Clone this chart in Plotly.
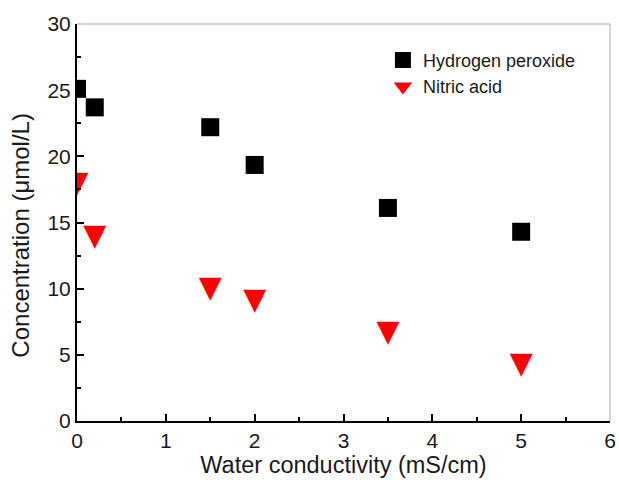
import plotly.graph_objects as go

conductivity_h2o2 = [0, 0.2, 1.5, 2, 3.5, 5]
h2o2 = [25.1, 23.7, 22.2, 19.35, 16.1, 14.3]
conductivity_hno3 = [0, 0.2, 1.5, 2, 3.5, 5]
hno3 = [17.9, 13.9, 9.9, 9.0, 6.6, 4.2]

fig = go.Figure()
fig.add_trace(go.Scatter(x=conductivity_h2o2, y=h2o2, mode="markers", name="Hydrogen peroxide",
                         marker=dict(symbol="square", size=18, color="black")))
# data triangles drawn as equilateral glyphs
fig.add_trace(go.Scatter(x=conductivity_hno3, y=hno3, mode="text", name="Nitric acid",
                         text=["▼"] * len(hno3), textposition="middle center",
                         textfont=dict(family="DejaVu Sans", size=30, color="#ff0000"),
                         showlegend=False, hoverinfo="x+y"))
fig.add_trace(go.Scatter(x=[None], y=[None], mode="markers", name="Nitric acid",
                         marker=dict(symbol="triangle-down", size=20, color="#ff0000")))

fig.update_layout(
    width=619, height=485,
    margin=dict(l=77, r=9, t=24, b=64),
    plot_bgcolor="white", paper_bgcolor="white",
    font=dict(family="Liberation Sans, Arial", color="#1a1a1a"),
    showlegend=True,
    legend=dict(x=0.574, y=0.955, xanchor="left", yanchor="top", bgcolor="rgba(0,0,0,0)",
                font=dict(size=18), itemsizing="trace", tracegroupgap=0),
    xaxis=dict(range=[0, 6], dtick=1, showgrid=False, zeroline=False, automargin=False,
               showline=True, linecolor="black", linewidth=2,
               ticks="inside", ticklen=7, tickwidth=2, tickcolor="black",
               minor=dict(ticks="inside", ticklen=4, tickwidth=2, tickcolor="black", dtick=0.5),
               tickfont=dict(size=21),
               title=dict(text="Water conductivity (mS/cm)", font=dict(size=23.5), standoff=4)),
    yaxis=dict(range=[0, 30], dtick=5, showgrid=False, zeroline=False, automargin=False,
               showline=True, linecolor="black", linewidth=2,
               ticks="inside", ticklen=7, tickwidth=2, tickcolor="black",
               minor=dict(ticks="inside", ticklen=4, tickwidth=2, tickcolor="black", dtick=2.5),
               tickfont=dict(size=21)),
)
fig.add_annotation(text="Concentration (μmol/L)", xref="paper", yref="paper",
                   x=-0.105, y=0.467, xanchor="center", yanchor="middle",
                   textangle=-90, showarrow=False, font=dict(size=24))
fig.add_shape(type="line", xref="paper", yref="paper", x0=0, x1=1, y0=1, y1=1,
              line=dict(color="#aaaaaa", width=1))
fig.add_shape(type="line", xref="paper", yref="paper", x0=1, x1=1, y0=0, y1=1,
              line=dict(color="#aaaaaa", width=1))

fig.write_html("out.html")
